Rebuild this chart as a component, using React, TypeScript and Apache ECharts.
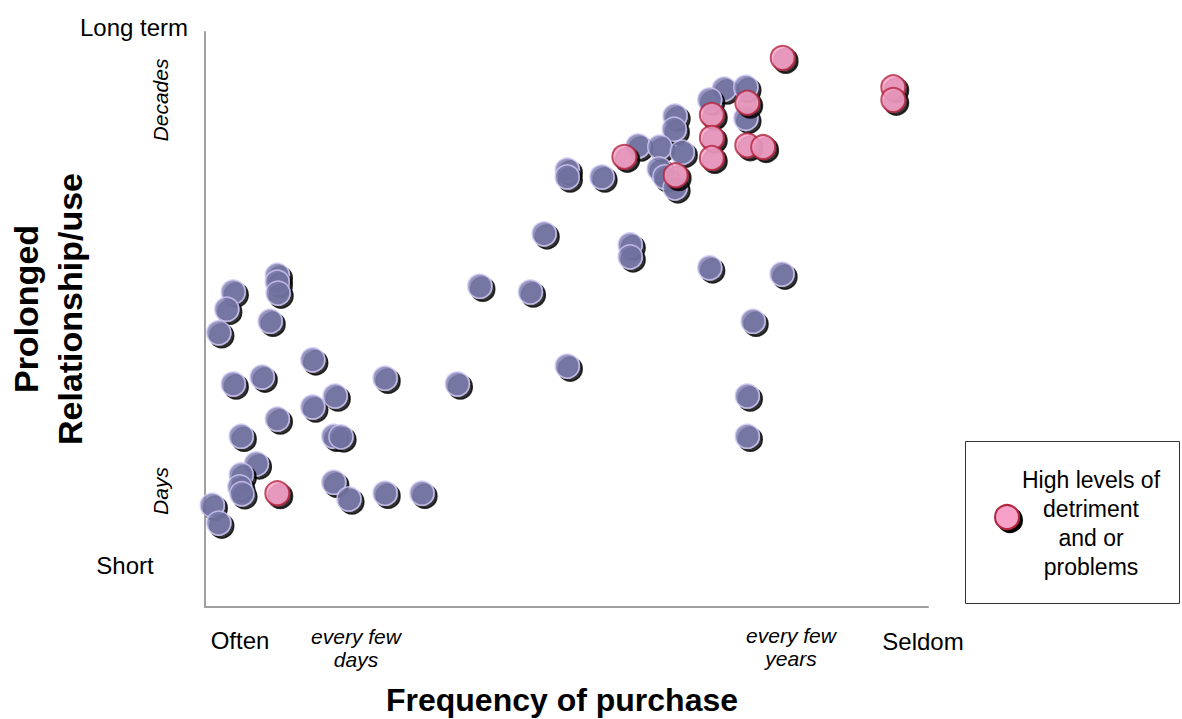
import React, { useEffect, useRef } from "react";
import * as echarts from "echarts";

// Data (axis units 0..100 on both axes)
const typicalPoints: [number, number][] = [
  [10.0, 57.7], [10.0, 56.5], [10.1, 54.6], [3.9, 54.8], [3.0, 51.8], [1.9, 47.7],
  [9.0, 49.7], [14.9, 43.0], [3.9, 38.8], [7.9, 40.0], [24.9, 39.8], [34.9, 38.8],
  [14.9, 34.8], [18.0, 36.7], [10.0, 32.7], [5.0, 29.7], [17.8, 29.7], [18.8, 29.6],
  [7.1, 24.9], [5.0, 23.0], [4.8, 20.9], [5.1, 19.7], [1.0, 17.7], [1.9, 14.6],
  [17.8, 21.7], [19.9, 18.8], [24.9, 19.8], [30.0, 19.8],
  [50.1, 76.0], [50.1, 74.8], [54.9, 74.8], [46.9, 64.9], [58.8, 63.0], [58.8, 60.9],
  [69.8, 59.0], [79.8, 57.9], [38.0, 55.8], [45.0, 54.8], [75.8, 49.7], [50.1, 41.9],
  [75.0, 36.7], [75.0, 29.7],
  [71.8, 90.1], [74.8, 90.4], [69.8, 88.2], [74.8, 85.0], [65.0, 85.4], [64.9, 83.1],
  [59.9, 80.2], [62.9, 80.0], [66.0, 79.1], [62.8, 76.2], [63.6, 74.8], [65.0, 72.9],
];

const detrimentPoints: [number, number][] = [
  [79.9, 95.5], [95.2, 90.4], [95.2, 88.2], [75.0, 87.7], [70.1, 85.6], [70.1, 81.6],
  [70.1, 78.1], [75.0, 80.3], [77.2, 80.0], [58.0, 78.3], [65.1, 75.1], [10.0, 19.8],
];

const yEndLabels = ["Long term", "Short"];
const yScaleLabels = ["Decades", "Days"];
const xEndLabels = ["Often", "Seldom"];
const xScaleLabels = ["every few\ndays", "every few\nyears"];
const xTitle = "Frequency of purchase";
const yTitleLines = ["Prolonged", "Relationship/use"];
const legendText = "High levels of\ndetriment\nand or\nproblems";

const FONT = "'Liberation Sans', Arial, Helvetica, sans-serif";

const blueStyle = {
  color: "#7b7bac",
  borderColor: "#d2cbf7",
  borderWidth: 1.5,
  shadowColor: "#000",
  shadowBlur: 1,
  shadowOffsetX: 3,
  shadowOffsetY: 3,
};
const pinkStyle = {
  color: "#f7a1c9",
  borderColor: "#b3253f",
  borderWidth: 2,
  shadowColor: "#000",
  shadowBlur: 1,
  shadowOffsetX: 3,
  shadowOffsetY: 3,
};

function txt(
  text: string,
  x: number,
  y: number,
  size: number,
  opts: { bold?: boolean; italic?: boolean; align?: string; rotate?: boolean; lineHeight?: number } = {}
) {
  const font = `${opts.italic ? "italic " : ""}${opts.bold ? "bold " : ""}${size}px ${FONT}`;
  const align = opts.align || "center";
  return {
    type: "text",
    x,
    y,
    rotation: opts.rotate ? Math.PI / 2 : 0,
    style: {
      text,
      font,
      fill: "#000",
      align,
      verticalAlign: "middle",
      textAlign: align,
      textVerticalAlign: "middle",
      lineHeight: opts.lineHeight || size * 1.2,
    },
    silent: true,
  };
}

export default function App() {
  const ref = useRef<HTMLDivElement>(null);
  useEffect(() => {
    document.body.style.margin = "0";
    const chart = echarts.init(ref.current!, null, { renderer: "svg" });
    const axisLine = { show: true, lineStyle: { color: "#a0a0a0", width: 2 } };
    chart.setOption({
      animation: false,
      backgroundColor: "#fff",
      grid: { left: 205, top: 32, width: 723, height: 575 },
      xAxis: {
        type: "value",
        min: 0,
        max: 100,
        axisLine,
        axisTick: { show: false },
        axisLabel: { show: false },
        splitLine: { show: false },
      },
      yAxis: {
        type: "value",
        min: 0,
        max: 100,
        axisLine,
        axisTick: { show: false },
        axisLabel: { show: false },
        splitLine: { show: false },
      },
      series: [
        {
          type: "scatter",
          name: "Typical",
          data: typicalPoints,
          symbol: "circle",
          symbolSize: 24,
          itemStyle: blueStyle,
          emphasis: { disabled: true },
        },
        {
          type: "scatter",
          name: "High levels of detriment and or problems",
          data: detrimentPoints,
          symbol: "circle",
          symbolSize: 24,
          itemStyle: pinkStyle,
          emphasis: { disabled: true },
        },
      ],
      graphic: [
        txt(yEndLabels[0], 188, 27, 24, { align: "right" }),
        txt(yEndLabels[1], 125, 565, 24),
        txt(yScaleLabels[0], 160, 100, 21, { italic: true, rotate: true }),
        txt(yScaleLabels[1], 160, 491, 21, { italic: true, rotate: true }),
        txt(yTitleLines[0], 26, 309, 34, { bold: true, rotate: true }),
        txt(yTitleLines[1], 70, 309, 34, { bold: true, rotate: true }),
        txt(xEndLabels[0], 240, 640, 24),
        txt(xEndLabels[1], 923, 641, 24),
        txt(xScaleLabels[0], 356, 648, 21, { italic: true, lineHeight: 23 }),
        txt(xScaleLabels[1], 791, 647, 21, { italic: true, lineHeight: 23 }),
        txt(xTitle, 562, 700, 32, { bold: true }),
        {
          type: "rect",
          shape: { x: 965.5, y: 441.5, width: 214, height: 162 },
          style: { fill: "#fff", stroke: "#333", lineWidth: 1 },
          silent: true,
        },
        {
          type: "circle",
          shape: { cx: 1007, cy: 517, r: 12 },
          style: {
            fill: pinkStyle.color,
            stroke: pinkStyle.borderColor,
            lineWidth: 2,
            shadowColor: "#000",
            shadowBlur: 1,
            shadowOffsetX: 3,
            shadowOffsetY: 3,
          },
          silent: true,
        },
        txt(legendText, 1091, 523, 23, { lineHeight: 29 }),
      ],
    });
    return () => chart.dispose();
  }, []);
  return <div ref={ref} style={{ width: 1182, height: 719 }} />;
}
